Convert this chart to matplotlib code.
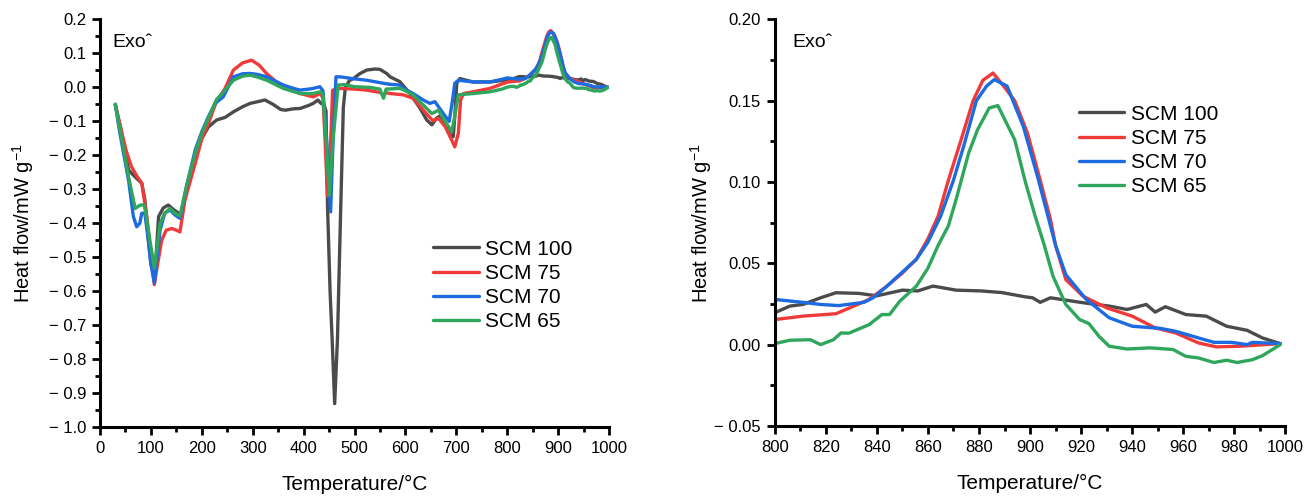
import matplotlib
matplotlib.use("Agg")
import matplotlib.pyplot as plt
from matplotlib.ticker import MultipleLocator, FuncFormatter
import numpy as np

plt.rcParams['font.family'] = ['Liberation Sans', 'DejaVu Sans']
plt.rcParams['mathtext.fontset'] = 'custom'
plt.rcParams['mathtext.rm'] = 'Liberation Sans'
plt.rcParams['mathtext.it'] = 'Liberation Sans:italic'

series_names = ["SCM 100", "SCM 75", "SCM 70", "SCM 65"]
series_colors = ["#4b4b4b", "#f03a3a", "#1c6be0", "#2ea65c"]

# SCM 100
t_scm100 = [30, 42, 56, 70, 82, 88, 95, 100, 106, 110, 115, 124, 134, 145, 160, 170, 187, 200, 213, 229,
            246, 262, 280, 295, 310, 324, 340, 355, 364, 380, 393, 410, 419, 428, 434, 440, 444, 447, 452,
            456, 461, 466.5, 473, 478, 482, 490, 498, 510, 524, 540, 550, 563, 570, 589, 609, 629, 642,
            652, 661, 668, 678, 688, 694, 697, 701, 707, 733, 766, 790,
            800, 806, 811, 818, 824, 833, 840, 850, 856, 862, 871, 881, 889, 898, 901, 904, 908, 921,
            931, 938, 945.5, 949, 953, 961, 969, 977, 985, 991, 998]
v_scm100 = [-0.052, -0.13, -0.243, -0.265, -0.282, -0.33, -0.45, -0.52, -0.55, -0.5, -0.38, -0.355, -0.346,
            -0.36, -0.376, -0.3, -0.204, -0.15, -0.116, -0.096, -0.088, -0.072, -0.057, -0.047, -0.042,
            -0.037, -0.05, -0.065, -0.067, -0.063, -0.062, -0.053, -0.047, -0.037, -0.047, -0.05, -0.07,
            -0.35, -0.6, -0.74, -0.93, -0.74, -0.35, -0.06, 0.0, 0.02, 0.026, 0.04, 0.051, 0.054, 0.053,
            0.041, 0.031, 0.017, -0.018, -0.062, -0.096, -0.11, -0.091, -0.084, -0.106, -0.14, -0.145,
            -0.086, 0.012, 0.026, 0.016, 0.016, 0.020,
            0.0196, 0.0237, 0.0247, 0.0288, 0.0319, 0.0315, 0.030, 0.0335, 0.033, 0.036, 0.0335, 0.033,
            0.032, 0.0294, 0.0288, 0.026, 0.0288, 0.0257, 0.0237, 0.0216, 0.0247, 0.020, 0.0233, 0.0185,
            0.0175, 0.0113, 0.0088, 0.0041, 0.0006]

# SCM 75
t_scm75 = [30, 43, 52, 62, 72, 82, 92, 100, 106.7, 112, 121, 130, 141, 150, 157, 167, 187, 200, 213, 229,
           245, 262, 280, 298, 313, 327, 345, 360, 393, 419, 432, 438, 442, 447, 452, 457, 470, 500, 524,
           550, 557, 563, 570, 596, 615, 635, 654, 665, 678, 691, 697, 704, 708.5, 714, 733, 766, 790,
           800, 811, 824, 831, 837, 844, 850, 855.5, 860, 864, 868, 873, 877.7, 881.5, 885.5, 889.4, 894,
           899, 904, 908, 910, 914, 920.7, 930, 940, 949, 957, 966, 973, 982, 992, 998]
v_scm75 = [-0.05, -0.135, -0.19, -0.234, -0.26, -0.282, -0.38, -0.5, -0.58, -0.53, -0.45, -0.42, -0.415,
           -0.42, -0.425, -0.33, -0.224, -0.15, -0.106, -0.04, -0.005, 0.051, 0.072, 0.080, 0.065, 0.041,
           0.018, 0.002, -0.018, -0.028, -0.018, -0.03, -0.15, -0.32, -0.2, -0.008, -0.003, -0.005,
           -0.008, -0.015, -0.022, -0.016, -0.018, -0.022, -0.032, -0.067, -0.098, -0.091, -0.115, -0.155,
           -0.175, -0.135, -0.037, -0.018, -0.013, -0.003, 0.010,
           0.0154, 0.0175, 0.019, 0.0237, 0.0278, 0.036, 0.044, 0.0525, 0.065, 0.079, 0.101, 0.126, 0.150,
           0.1625, 0.167, 0.1595, 0.150, 0.130, 0.101, 0.077, 0.061, 0.040, 0.0298, 0.0226, 0.0175,
           0.0103, 0.0072, 0.001, -0.0014, -0.001, 0.0, 0.0006]

# SCM 70
t_scm70 = [30, 39, 56, 65.5, 72, 78, 82, 88, 95, 100, 106.7, 112, 118, 127, 137.5, 147, 157, 170, 187, 200,
           213, 226, 242, 262, 280, 295, 310, 327.5, 345, 360, 380, 393, 410, 419, 432, 438, 445, 453, 458,
           463.6, 472, 500, 524, 557, 570, 589, 596, 615, 635, 648, 658, 674.5, 686, 692.7, 697, 704, 733,
           766, 790,
           800, 811, 818, 825, 835, 838.5, 844, 855.5, 860, 865, 870, 874, 879, 883, 886, 891, 897.4, 903,
           908, 910, 914, 922, 931, 940, 951, 957, 966, 972, 979, 985, 987, 998]
v_scm70 = [-0.05, -0.135, -0.273, -0.38, -0.41, -0.4, -0.37, -0.37, -0.45, -0.52, -0.575, -0.5, -0.42,
           -0.37, -0.36, -0.375, -0.385, -0.29, -0.184, -0.13, -0.086, -0.047, -0.028, 0.031, 0.040, 0.041,
           0.038, 0.031, 0.018, 0.007, -0.003, -0.008, -0.005, -0.003, 0.002, -0.01, -0.15, -0.366, -0.15,
           0.031, 0.031, 0.025, 0.021, 0.012, 0.009, 0.007, -0.003, -0.018, -0.037, -0.047, -0.042, -0.077,
           -0.10, -0.037, 0.012, 0.021, 0.016, 0.016, 0.024,
           0.0278, 0.026, 0.0247, 0.024, 0.026, 0.0288, 0.036, 0.0525, 0.063, 0.079, 0.101, 0.122, 0.150,
           0.159, 0.163, 0.159, 0.134, 0.103, 0.073, 0.061, 0.043, 0.0278, 0.0165, 0.0113, 0.010, 0.0082,
           0.0041, 0.0014, 0.0014, 0.0, 0.0014, 0.0006]

# SCM 65
t_scm65 = [30, 43, 56, 69, 75, 79, 87, 92, 98, 106.7, 112, 118, 127, 137.5, 147, 157, 170, 187, 200, 213,
           229, 239, 262, 280, 295, 310, 327.5, 345, 360, 393, 419, 432, 438, 444, 450.6, 458, 468, 480,
           500, 530, 550, 557, 562, 589, 596, 615, 635, 652, 665, 678, 691, 697, 704, 733, 766, 790,
           800, 806, 814, 818, 823, 826, 829, 837, 842, 845, 849, 855.5, 860, 864, 868, 871, 876, 879.4,
           884, 887.4, 894, 898, 902, 905.6, 909, 914, 919.4, 923, 927, 931, 938, 947, 956, 961, 966, 972,
           977, 981, 987, 991, 998]
v_scm65 = [-0.05, -0.155, -0.263, -0.356, -0.35, -0.346, -0.346, -0.39, -0.45, -0.532, -0.47, -0.40, -0.37,
           -0.356, -0.37, -0.378, -0.29, -0.194, -0.135, -0.09, -0.035, -0.02, 0.021, 0.033, 0.036, 0.030,
           0.021, 0.008, -0.003, -0.018, -0.018, -0.013, -0.02, -0.15, -0.317, -0.15, 0.007, 0.008, 0.002,
           0.0, -0.005, -0.032, -0.005, -0.003, -0.007, -0.022, -0.052, -0.077, -0.067, -0.10, -0.13,
           -0.086, -0.022, -0.018, -0.013, -0.005,
           0.0006, 0.0027, 0.003, 0.0, 0.003, 0.0072, 0.007, 0.0123, 0.0185, 0.0185, 0.0267, 0.036, 0.047,
           0.061, 0.073, 0.089, 0.118, 0.132, 0.1455, 0.147, 0.126, 0.101, 0.079, 0.061, 0.042, 0.0247,
           0.0154, 0.013, 0.0051, -0.001, -0.0027, -0.002, -0.003, -0.0072, -0.0082, -0.011, -0.0096,
           -0.011, -0.0093, -0.0068, 0.0]

series_t = [t_scm100, t_scm75, t_scm70, t_scm65]
series_v = [v_scm100, v_scm75, v_scm70, v_scm65]

x_label = "Temperature/\u00b0C"
y_label = "Heat flow/mW g$^{\u2212 1}$"


def fmt_factory(dec):
    def f(val, pos):
        if abs(val) < 1e-9:
            val = 0.0
        s = f"{abs(val):.{dec}f}"
        return ("\u2212 " + s) if val < 0 else s
    return f


def style_axes(ax):
    for side in ("top", "right"):
        ax.spines[side].set_visible(False)
    for side in ("left", "bottom"):
        ax.spines[side].set_linewidth(2.2)
    ax.tick_params(which="major", direction="out", length=6, width=2.0, labelsize=12, pad=4)
    ax.tick_params(which="minor", direction="out", length=3.5, width=2.0)


fig = plt.figure(figsize=(13.13, 4.97), dpi=100)

# Left panel
ax1 = fig.add_axes([0.0762, 0.140, 0.3876, 0.821])
for t, v, name, c in zip(series_t, series_v, series_names, series_colors):
    ax1.plot(t, v, color=c, lw=2.4, label=name, solid_joinstyle="round", solid_capstyle="round")
ax1.set_xlim(0, 1000)
ax1.set_ylim(-1.0, 0.2)
ax1.xaxis.set_major_locator(MultipleLocator(100))
ax1.xaxis.set_minor_locator(MultipleLocator(50))
ax1.yaxis.set_major_locator(MultipleLocator(0.1))
ax1.yaxis.set_minor_locator(MultipleLocator(0.05))
ax1.yaxis.set_major_formatter(FuncFormatter(fmt_factory(1)))
style_axes(ax1)
ax1.set_xlabel(x_label, fontsize=15, labelpad=13.5)
ax1.set_ylabel(y_label, fontsize=14.5, labelpad=9)
ax1.text(0.025, 0.965, "Exo\u02c6", transform=ax1.transAxes, fontsize=14, va="top", ha="left")
ax1.legend(loc="upper left", bbox_to_anchor=(0.655, 0.46), frameon=False, fontsize=15,
           handlelength=2.2, handletextpad=0.3, labelspacing=0.25, borderpad=0, borderaxespad=0)

# Right panel
ax2 = fig.add_axes([0.590, 0.143, 0.389, 0.818])
for t, v, name, c in zip(series_t, series_v, series_names, series_colors):
    ta = np.asarray(t)
    va = np.asarray(v)
    m = ta >= 795
    ax2.plot(ta[m], va[m], color=c, lw=2.4, label=name, solid_joinstyle="round", solid_capstyle="round")
ax2.set_xlim(800, 1000)
ax2.set_ylim(-0.05, 0.20)
ax2.xaxis.set_major_locator(MultipleLocator(20))
ax2.xaxis.set_minor_locator(MultipleLocator(10))
ax2.yaxis.set_major_locator(MultipleLocator(0.05))
ax2.yaxis.set_minor_locator(MultipleLocator(0.025))
ax2.yaxis.set_major_formatter(FuncFormatter(fmt_factory(2)))
style_axes(ax2)
ax2.set_xlabel(x_label, fontsize=15, labelpad=13.5)
ax2.set_ylabel(y_label, fontsize=14.5, labelpad=0)
ax2.text(0.035, 0.965, "Exo\u02c6", transform=ax2.transAxes, fontsize=14, va="top", ha="left")
ax2.legend(loc="upper left", bbox_to_anchor=(0.595, 0.79), frameon=False, fontsize=15,
           handlelength=2.2, handletextpad=0.3, labelspacing=0.25, borderpad=0, borderaxespad=0)

fig.savefig("out.png", dpi=100)
